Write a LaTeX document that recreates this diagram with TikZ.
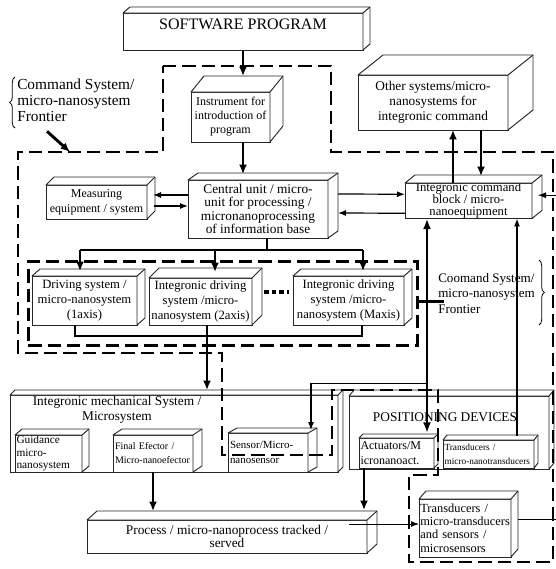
\documentclass[tikz,border=0pt]{standalone}
\usepackage{fontspec}
\setmainfont{Liberation Serif}
\usetikzlibrary{arrows.meta,calc,decorations.pathreplacing}
\exhyphenpenalty=10000
\hyphenpenalty=10000

\tikzset{
  cube/.style={draw=black!85, fill=white, line width=0.7pt, inner sep=0.5pt,
    outer sep=0pt, anchor=north west, align=center},
  lefttext/.style={align=left, inner xsep=1pt, inner ysep=0pt},
  face/.style={draw=black!85, fill=white, line width=0.7pt, line join=round},
  frontier/.style={line width=1.9pt, dash pattern=on 10pt off 4.5pt, line join=miter},
  bigarrow/.style={line width=1.6pt, -{Latex[length=7pt,width=6pt]}},
  thinarrow/.style={line width=0.9pt, -{Latex[length=6pt,width=4.5pt]}},
  thinline/.style={line width=0.8pt},
}

\begin{document}
\begin{tikzpicture}[x=0.75pt, y=-0.75pt]
    \useasboundingbox (0,0) rectangle (556,569) ;

    % inner frontier round the driving systems
    \node[frontier, draw, minimum width=291.75pt, minimum height=63pt,
      anchor=north west, inner sep=0pt] (drv) at (27,260) {} ;

    \node[cube, minimum width=180pt, minimum height=27.75pt,
      font=\fontsize{12}{14}\selectfont] (sw) at (123,13)
      {\raisebox{11pt}{SOFTWARE PROGRAM}} ;
    \node[cube, minimum width=59.25pt, minimum height=37.5pt,
      font=\fontsize{9}{10.5}\selectfont] (ins) at (191,92)
      {Instrument for\\introduction of\\program} ;
    \node[cube, minimum width=105pt, minimum height=43.5pt,
      font=\fontsize{10}{10}\selectfont] (cu) at (188,180)
      {Central unit / micro-\\unit for processing /\\micronanoprocessing\\of information base} ;
    \node[cube, minimum width=75.75pt, minimum height=25.5pt,
      font=\fontsize{9}{11}\selectfont] (me) at (46,185)
      {Measuring\\equipment / system} ;
    \node[cube, minimum width=112.5pt, minimum height=41.25pt,
      font=\fontsize{10}{11.3}\selectfont] (os) at (358,75)
      {Other systems/micro-\\nanosystems for\\integronic command} ;
    \node[cube, minimum width=95.25pt, minimum height=26.25pt, inner sep=0pt,
      font=\fontsize{9.5}{9}\selectfont] (ic) at (405,183)
      {Integronic command\\block / micro-\\nanoequipment} ;

    \node[cube, minimum width=78.75pt, minimum height=36.75pt,
      font=\fontsize{9.5}{11.5}\selectfont] (d1) at (32,276)
      {Driving system /\\micro-nanosystem\\(1axis)} ;
    \node[cube, minimum width=77.25pt, minimum height=35.25pt,
      font=\fontsize{9.5}{11}\selectfont] (d2) at (149,278)
      {Integronic driving\\system /micro-\\nanosystem (2axis)} ;
    \node[cube, minimum width=83.25pt, minimum height=36.75pt,
      font=\fontsize{9.5}{11}\selectfont] (dm) at (293,276)
      {Integronic driving\\system /micro-\\nanosystem (Maxis)} ;

    \node[cube, minimum width=246pt, minimum height=57.75pt] (ms) at (10,395) {} ;
    \node[font=\fontsize{10}{11}\selectfont, align=center] (mslabel) at (117,410)
      {Integronic mechanical System /\\Microsystem} ;
    \node[cube, lefttext, minimum width=50.25pt, minimum height=27.75pt, text width=48pt,
      font=\fontsize{8.5}{9.5}\selectfont] (gd) at (15,435)
      {Guidance\\micro-\\nanosystem} ;
    \node[cube, lefttext, minimum width=60pt, minimum height=27.75pt, text width=57pt,
      font=\fontsize{7.5}{10.5}\selectfont] (fe) at (113,435)
      {Final Efector /\\Micro-nanoefector} ;
    \node[cube, lefttext, minimum width=60pt, minimum height=29.25pt, text width=57pt,
      font=\fontsize{8.2}{11}\selectfont] (se) at (228,433)
      {Sensor/Micro-\\nanosensor} ;

    \node[cube, minimum width=150pt, minimum height=54.75pt] (pd) at (349,396) {} ;
    \node[font=\fontsize{10}{11}\selectfont] (pdlabel) at (445,417) {POSITIONING DEVICES} ;
    \node[cube, lefttext, minimum width=56.25pt, minimum height=22.5pt, text width=54pt,
      font=\fontsize{9}{11}\selectfont] (ac) at (359,438)
      {Actuators/M\\icronanoact.} ;
    \node[cube, lefttext, minimum width=68.25pt, minimum height=21pt, text width=66pt,
      font=\fontsize{7}{10.5}\selectfont] (tr) at (443,440)
      {Transducers /\\micro-nanotransducers} ;

    \node[cube, minimum width=210pt, minimum height=24.75pt,
      font=\fontsize{10}{10}\selectfont] (pr) at (87,520)
      {Process / micro-nanoprocess tracked /\\served} ;
    \node[cube, lefttext, minimum width=69pt, minimum height=43.5pt, text width=67pt,
      font=\fontsize{9.3}{10}\selectfont] (ts) at (419,499)
      {Transducers /\\micro-transducers\\and sensors /\\microsensors} ;

    % top and side faces of the boxes
    \foreach \n/\dx/\dy in {sw/7/6, ins/13/16, cu/10/7, me/8/8, os/25/20, ic/10/8,
      d1/8/7, d2/10/10, dm/8/7, ms/5/5, gd/7/6, fe/9/6, se/9/5, pd/5/6,
      ac/4/4, tr/4/5, pr/10/9, ts/7/8} {
      \filldraw[face] (\n.north west) -- ++(\dx,-\dy) -- ($(\n.north east)+(\dx,-\dy)$)
        -- ($(\n.south east)+(\dx,-\dy)$) -- (\n.south east) -- (\n.north east) -- cycle ;
      \draw[face] (\n.north east) -- ++(\dx,-\dy) ;
    } ;

    % frontier labels
    \node[anchor=north west, inner sep=0pt, align=left,
      font=\fontsize{11.5}{12}\selectfont] (lfront) at (17,79)
      {Command System/\\micro-nanosystem\\Frontier} ;
    \node[anchor=north west, inner sep=0pt, align=left,
      font=\fontsize{9.8}{11.6}\selectfont] (rfront) at (438,273)
      {Coomand System/\\micro-nanosystem\\Frontier} ;
    \draw[decorate, decoration={brace, amplitude=4pt}, line width=0.6pt] (15,128) -- (15,77) ;
    \draw[decorate, decoration={brace, amplitude=4pt}, line width=0.6pt] (539,260) -- (539,325) ;

    % command system / micro-nanosystem frontier
    \draw[frontier] (163,66) -- (331,66) -- (331,152) -- (553,152) -- (553,562)
      -- (409,562) -- (409,475) -- (438,475) -- (438,390) -- (332,390) -- (332,455)
      -- (222,455) -- (222,353) -- (18,353) -- (18,152) -- (163,152) -- cycle ;
    \coordinate (frtip) at (70,152) ;
    \draw[bigarrow, line width=2.2pt] ($(lfront.south west)+(30,9)$) -- (frtip) ;

    % connectors
    \draw[bigarrow] (sw.south) -- ($(sw.south |- ins.north)+(0,-16)$) ;
    \draw[bigarrow] (sw.south |- ins.south) -- ($(sw.south |- cu.north)+(0,-6)$) ;

    \draw[thinarrow] ($(cu.west)+(0,-14)$) -- ($(me.east)+(6,-7)$) ;
    \draw[thinarrow] ($(me.east)+(7,4)$) -- ($(cu.west)+(0,-3)$) ;
    \draw[thinarrow] ($(cu.east)+(10,-15)$) -- ($(ic.west)+(0,-6.5)$) ;
    \draw[thinarrow] ($(ic.west)+(0,12.5)$) -- ($(cu.east)+(10,4)$) ;

    \draw[bigarrow, line width=1.3pt] ($(ic.north)+(-15.5,0)$) -- ($(os.south)+(20,0)$) ;
    \draw[bigarrow, line width=1.3pt] ($(os.south)+(48,0)$) -- ($(ic.north)+(12.5,-7)$) ;
    \draw[thinarrow, line width=0.7pt] ($(ts.east)+(7,-9)$) -- ++(40,0) |- ($(ic.east)+(6,-5.5)$) ;

    \draw[thinline] ($(cu.south)+(9,0)$) -- ++(0,12) coordinate (bus) ;
    \draw[thinline] ($(d1.north |- bus)+(-4.5,0)$) -- ($(dm.north |- bus)+(14.5,0)$) ;
    \draw[bigarrow, line width=1.3pt] ($(d1.north |- bus)+(-4.5,0)$) -- ($(d1.north)+(-4.5,-5)$) ;
    \draw[bigarrow, line width=1.3pt] ($(d2.north |- bus)+(14.5,0)$) -- ($(d2.north)+(14.5,-6)$) ;
    \draw[bigarrow, line width=1.3pt] ($(dm.north |- bus)+(14.5,0)$) -- ($(dm.north)+(14.5,-5)$) ;
    \draw[thinline] ($(d1.south)+(-9.5,0)$) |- ($(dm.south)+(13.5,11)$) -- ($(dm.south)+(13.5,0)$) ;
    \draw[line width=3.5pt, dash pattern=on 3.5pt off 2.2pt] ($(d2.east)+(12,-9.5)$) -- ++(25,0) ;

    \draw[bigarrow, line width=1.3pt] ($(d2.south)+(6.5,0)$) -- ($(d2.south |- ms.north)+(6.5,-5)$) ;
    \draw[line width=2.2pt, {Latex[length=8pt,width=6pt]}-{Latex[length=8pt,width=6pt]}]
      ($(ic.south)+(-41.5,0)$) -- ($(ac.north)+(30.5,-5)$) ;
    \draw[line width=2.2pt] ($(drv.east)+(0,-2)$) -- ++(25,0) ;
    \draw[thinarrow] ($(ic.south)+(-41.5,165)$) -| ($(se.north)+(43,-3)$) ;
    \draw[thinarrow] ($(tr.north)+(28.5,-4)$) -- ($(ic.south)+(48.5,0)$) ;

    \draw[bigarrow, line width=1.3pt] (fe.south) -- ($(fe.south |- pr.north)+(0,-9)$) ;
    \draw[bigarrow, line width=1.3pt] ($(ac.south)+(-32.5,0)$) -- ($(ac.south |- pr.north)+(-32.5,-10)$) ;
    \draw[thinarrow, line width=0.7pt] ($(pr.east)+(-18,-12.5)$) -- ($(pr.east -| ts.west)+(0,-12.5)$) ;
\end{tikzpicture}
\end{document}
